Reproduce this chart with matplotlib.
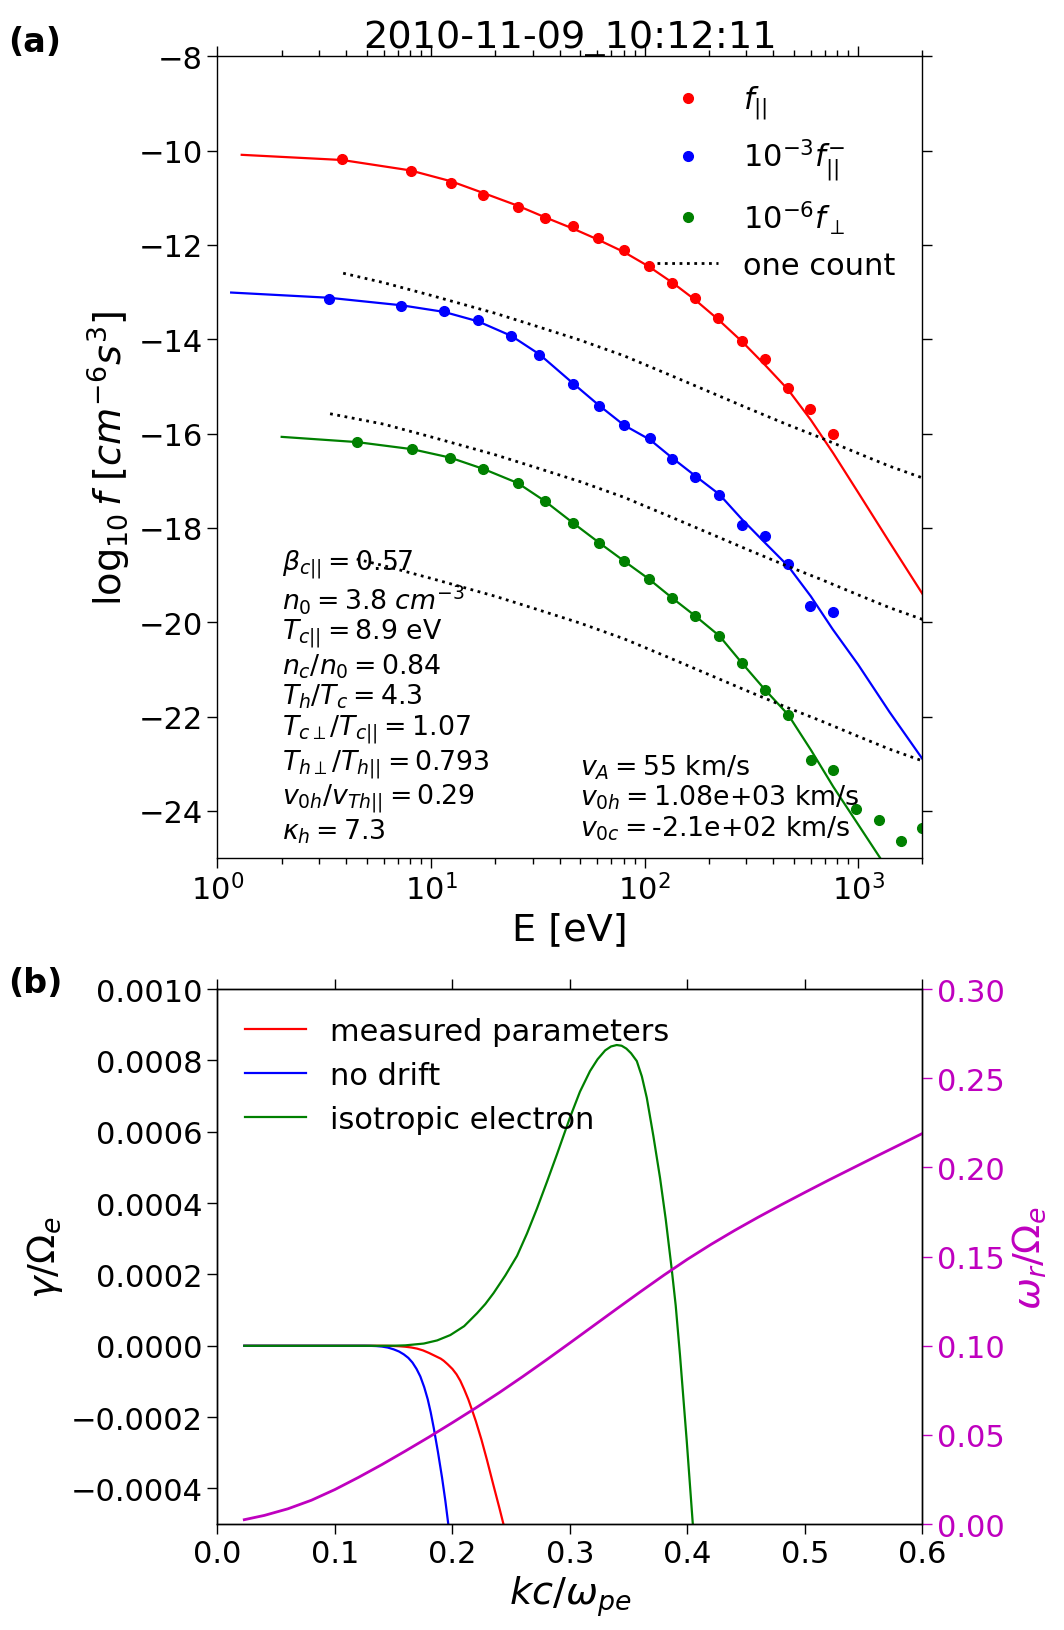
import matplotlib
matplotlib.use('Agg')
import matplotlib.pyplot as plt
from matplotlib.ticker import FuncFormatter, LogLocator, NullFormatter

# ---- panel (a): measured distributions ----
E_par = [3.84, 8.04, 12.4, 17.6, 25.5, 34.1, 46.1, 60.4, 80, 104.5, 135, 173, 221, 286, 367, 470, 594, 760]
f_par = [-10.18, -10.44, -10.68, -10.95, -11.19, -11.43, -11.60, -11.85, -12.11, -12.44, -12.81, -13.12,
         -13.56, -14.04, -14.42, -15.03, -15.47, -16.0]
E_anti = [3.32, 7.27, 11.5, 16.6, 23.8, 32.2, 46.1, 61.1, 80, 106, 135, 173, 224, 286, 367, 470, 594, 760]
f_anti = [-13.14, -13.30, -13.41, -13.60, -13.93, -14.33, -14.95, -15.41, -15.82, -16.09, -16.53, -16.92,
          -17.30, -17.93, -18.18, -18.77, -19.65, -19.78]
E_perp = [4.49, 8.13, 12.3, 17.6, 25.5, 34.1, 46.1, 61.1, 80, 104.5, 135, 173, 224, 285, 366, 470, 601, 765,
          977, 1250, 1592, 1992]
f_perp = [-16.18, -16.33, -16.51, -16.75, -17.05, -17.43, -17.89, -18.31, -18.70, -19.08, -19.49, -19.87,
          -20.29, -20.86, -21.43, -21.96, -22.93, -23.13, -23.97, -24.20, -24.64, -24.37]

# model fits
Efit_par = [1.3, 3.84, 8, 12.4, 17.6, 25.5, 34, 46, 60, 80, 104, 135, 173, 221, 286, 367, 470, 600, 765, 1000, 1400, 2000]
fit_par = [-10.09, -10.20, -10.42, -10.65, -10.90, -11.17, -11.41, -11.65, -11.88, -12.15, -12.45, -12.80,
           -13.17, -13.58, -14.05, -14.55, -15.07, -15.71, -16.42, -17.25, -18.30, -19.40]
Efit_anti = [1.16, 3.32, 7.27, 11.5, 16.6, 23.8, 32.2, 46.1, 61.1, 80, 106, 135, 173, 224, 286, 367, 470, 600, 760,
             1000, 1400, 2000]
fit_anti = [-13.01, -13.12, -13.28, -13.42, -13.62, -13.93, -14.32, -14.93, -15.40, -15.82, -16.13, -16.52,
            -16.90, -17.29, -17.82, -18.32, -18.81, -19.45, -20.15, -20.90, -21.90, -22.90]
Efit_perp = [2.0, 4.49, 8.13, 12.3, 17.6, 25.5, 34.1, 46.1, 61.1, 80, 104.5, 135, 173, 224, 285, 366, 470, 601,
             765, 977, 1268, 1400]
fit_perp = [-16.07, -16.18, -16.33, -16.51, -16.75, -17.05, -17.43, -17.89, -18.31, -18.70, -19.08, -19.49,
            -19.87, -20.29, -20.86, -21.43, -21.96, -22.71, -23.49, -24.22, -25.0, -25.3]

# one-count level (for each scaled curve)
E_cnt = [6, 10, 20, 30, 50, 80, 130, 200, 300, 460, 660, 1000, 1400, 2000]
cnt = [-12.80, -13.07, -13.45, -13.70, -14.02, -14.35, -14.75, -15.11, -15.45, -15.80, -16.08, -16.42, -16.69, -16.94]
cnt_start_E = [3.88, 3.37, 4.49]
cnt_start = [-12.60, -15.58, -18.66]
cnt_shift = [0, -3, -6]

params_left = [r'$\beta_{c||}=0.57$', r'$n_0=3.8\ cm^{-3}$', r'$T_{c||}=8.9$ eV', r'$n_c/n_0=0.84$',
               r'$T_h/T_c=4.3$', r'$T_{c\perp}/T_{c||}=1.07$', r'$T_{h\perp}/T_{h||}=0.793$',
               r'$v_{0h}/v_{Th||}=0.29$', r'$\kappa_h=7.3$']
params_right = [r'$v_A=55$ km/s', r'$v_{0h}=1.08$e+03 km/s', r'$v_{0c}=$-2.1e+02 km/s']

# ---- panel (b): dispersion ----
k_meas = [0.0229, 0.14, 0.145, 0.15, 0.155, 0.16, 0.165, 0.17, 0.175, 0.18, 0.185, 0.19, 0.1926, 0.196, 0.20,
          0.2035, 0.2067, 0.21, 0.2135, 0.2167, 0.22, 0.2247, 0.2294, 0.235, 0.24, 0.2442, 0.246]
g_meas = [0, 0, -2e-7, -6e-7, -1.4e-6, -2.7e-6, -4.8e-6, -8e-6, -1.3e-5, -2.0e-5, -2.8e-5, -3.6e-5, -4.2e-5,
          -5.2e-5, -6.5e-5, -8.0e-5, -9.8e-5, -1.22e-4, -1.5e-4, -1.8e-4, -2.12e-4, -2.63e-4, -3.2e-4,
          -3.92e-4, -4.55e-4, -5.1e-4, -5.35e-4]
k_nodrift = [0.0229, 0.125, 0.13, 0.135, 0.14, 0.145, 0.15, 0.1545, 0.1586, 0.1625, 0.166, 0.1695, 0.1727,
             0.176, 0.179, 0.1815, 0.1841, 0.1877, 0.1912, 0.194, 0.1968, 0.198]
g_nodrift = [0, 0, -2e-7, -8e-7, -2.2e-6, -5e-6, -1.0e-5, -1.6e-5, -2.4e-5, -3.4e-5, -4.7e-5, -6.5e-5, -8.6e-5,
             -1.16e-4, -1.5e-4, -1.86e-4, -2.3e-4, -2.98e-4, -3.7e-4, -4.35e-4, -5.08e-4, -5.4e-4]
k_iso = [0.0229, 0.14, 0.15, 0.16, 0.1756, 0.187, 0.1982, 0.21, 0.2209, 0.228, 0.2351, 0.245, 0.2550, 0.2635,
         0.2720, 0.2805, 0.2890, 0.2950, 0.3004, 0.3085, 0.3171, 0.3235, 0.330, 0.335, 0.3398, 0.344, 0.348,
         0.352, 0.3569, 0.3612, 0.3654, 0.371, 0.3767, 0.3815, 0.3866, 0.390, 0.3937, 0.3994, 0.4045, 0.4055]
g_iso = [0, 0, 2e-7, 1.2e-6, 6.2e-6, 1.5e-5, 3.0e-5, 5.5e-5, 9.1e-5, 1.17e-4, 1.48e-4, 1.97e-4, 2.52e-4,
         3.15e-4, 3.85e-4, 4.6e-4, 5.37e-4, 5.93e-4, 6.43e-4, 7.12e-4, 7.70e-4, 8.03e-4, 8.28e-4, 8.39e-4,
         8.43e-4, 8.41e-4, 8.33e-4, 8.2e-4, 7.98e-4, 7.55e-4, 6.95e-4, 5.88e-4, 4.7e-4, 3.55e-4, 2.15e-4,
         1.13e-4, -2.8e-5, -2.67e-4, -4.97e-4, -5.4e-4]
k_wr = [0.0229, 0.04, 0.06, 0.08, 0.10, 0.12, 0.14, 0.16, 0.18, 0.20, 0.22, 0.24, 0.26, 0.28, 0.30, 0.32, 0.34,
        0.36, 0.38, 0.40, 0.42, 0.44, 0.46, 0.48, 0.50, 0.52, 0.54, 0.56, 0.58, 0.6008]
wr = [0.0025, 0.0049, 0.0086, 0.0134, 0.0194, 0.0262, 0.0334, 0.0410, 0.0488, 0.0569, 0.0652, 0.0738, 0.0828,
      0.0921, 0.1016, 0.1112, 0.1208, 0.1303, 0.1396, 0.1485, 0.1568, 0.1646, 0.1720, 0.1791, 0.1860, 0.1928,
      0.1994, 0.2060, 0.2125, 0.2193]

plt.rcParams['font.family'] = ['DejaVu Sans']
plt.rcParams['axes.linewidth'] = 1.0

TICK = 22
LAB = 27.5

fig = plt.figure(figsize=(10.64, 16.31), dpi=100)
ax = fig.add_axes([0.2043, 0.4733, 0.6627, 0.4916])

ax.plot(Efit_par, fit_par, color='red', lw=1.6)
ax.plot(Efit_anti, fit_anti, color='blue', lw=1.6)
ax.plot(Efit_perp, fit_perp, color='green', lw=1.6)
ax.plot(E_par, f_par, 'o', color='red', ms=7, label=r'$f_{||}$')
ax.plot(E_anti, f_anti, 'o', color='blue', ms=7, label=r'$10^{-3}f_{||}^{-}$')
ax.plot(E_perp, f_perp, 'o', color='green', ms=7, label=r'$10^{-6}f_{\perp}$')
for i in range(3):
    xs = [cnt_start_E[i]] + E_cnt
    ys = [cnt_start[i]] + [c + cnt_shift[i] for c in cnt]
    ax.plot(xs, ys, ':', color='black', lw=2, label='one count' if i == 0 else None)

ax.set_xscale('log')
ax.set_xlim(1, 2000)
ax.set_ylim(-25, -8)
ax.set_yticks(range(-24, -7, 2))
ax.xaxis.set_minor_locator(LogLocator(base=10, subs=range(2, 10), numticks=20))
ax.xaxis.set_minor_formatter(NullFormatter())
ax.tick_params(which='both', direction='out', top=True, right=True, labelsize=TICK, width=1.0)
ax.tick_params(which='major', length=7)
ax.tick_params(which='minor', length=4)
ax.set_xlabel('E [eV]', fontsize=LAB)
ax.set_ylabel(r'$\log_{10}f\ [cm^{-6}s^{3}]$', fontsize=LAB)
ax.set_title('2010-11-09_10:12:11', fontsize=27.5, pad=5)
ax.legend(loc='upper right', fontsize=22, frameon=False, numpoints=1)

ax.text(0.0913, 0.388, '\n'.join(params_left), transform=ax.transAxes, fontsize=19.3,
        va='top', ha='left', linespacing=1.09)
ax.text(0.5147, 0.132, '\n'.join(params_right), transform=ax.transAxes, fontsize=19.3,
        va='top', ha='left', linespacing=1.10)

fig.text(0.008, 0.974, '(a)', fontsize=24, fontweight='bold', va='center')

# ---- panel (b) ----
bx = fig.add_axes([0.2043, 0.0649, 0.6627, 0.3281])
bx.plot(k_meas, g_meas, color='red', lw=1.6, label='measured parameters')
bx.plot(k_nodrift, g_nodrift, color='blue', lw=1.6, label='no drift')
bx.plot(k_iso, g_iso, color='green', lw=1.6, label='isotropic electron')
bx.set_xlim(0, 0.6)
bx.set_ylim(-0.0005, 0.001)
bx.set_yticks([-0.0004, -0.0002, 0, 0.0002, 0.0004, 0.0006, 0.0008, 0.0010])
bx.yaxis.set_major_formatter(FuncFormatter(lambda v, p: ('%.4f' % v).replace('-', '\u2212')))
bx.tick_params(which='both', direction='out', top=True, labelsize=TICK, width=1.0, length=7)
bx.set_xlabel(r'$kc/\omega_{pe}$', fontsize=LAB)
bx.set_ylabel(r'$\gamma/\Omega_e$', fontsize=LAB)
bx.legend(loc='upper left', fontsize=22, frameon=False)

rx = bx.twinx()
rx.plot(k_wr, wr, color='m', lw=2)
rx.set_ylim(0, 0.3)
rx.set_yticks([0, 0.05, 0.10, 0.15, 0.20, 0.25, 0.30])
rx.yaxis.set_major_formatter(FuncFormatter(lambda v, p: '%.2f' % v))
rx.tick_params(axis='y', direction='out', colors='m', labelsize=TICK, width=1.0, length=7)
rx.set_ylabel(r'$\omega_r/\Omega_e$', fontsize=LAB, color='m')

fig.text(0.008, 0.397, '(b)', fontsize=24, fontweight='bold', va='center')

fig.savefig('out.png', dpi=100)
